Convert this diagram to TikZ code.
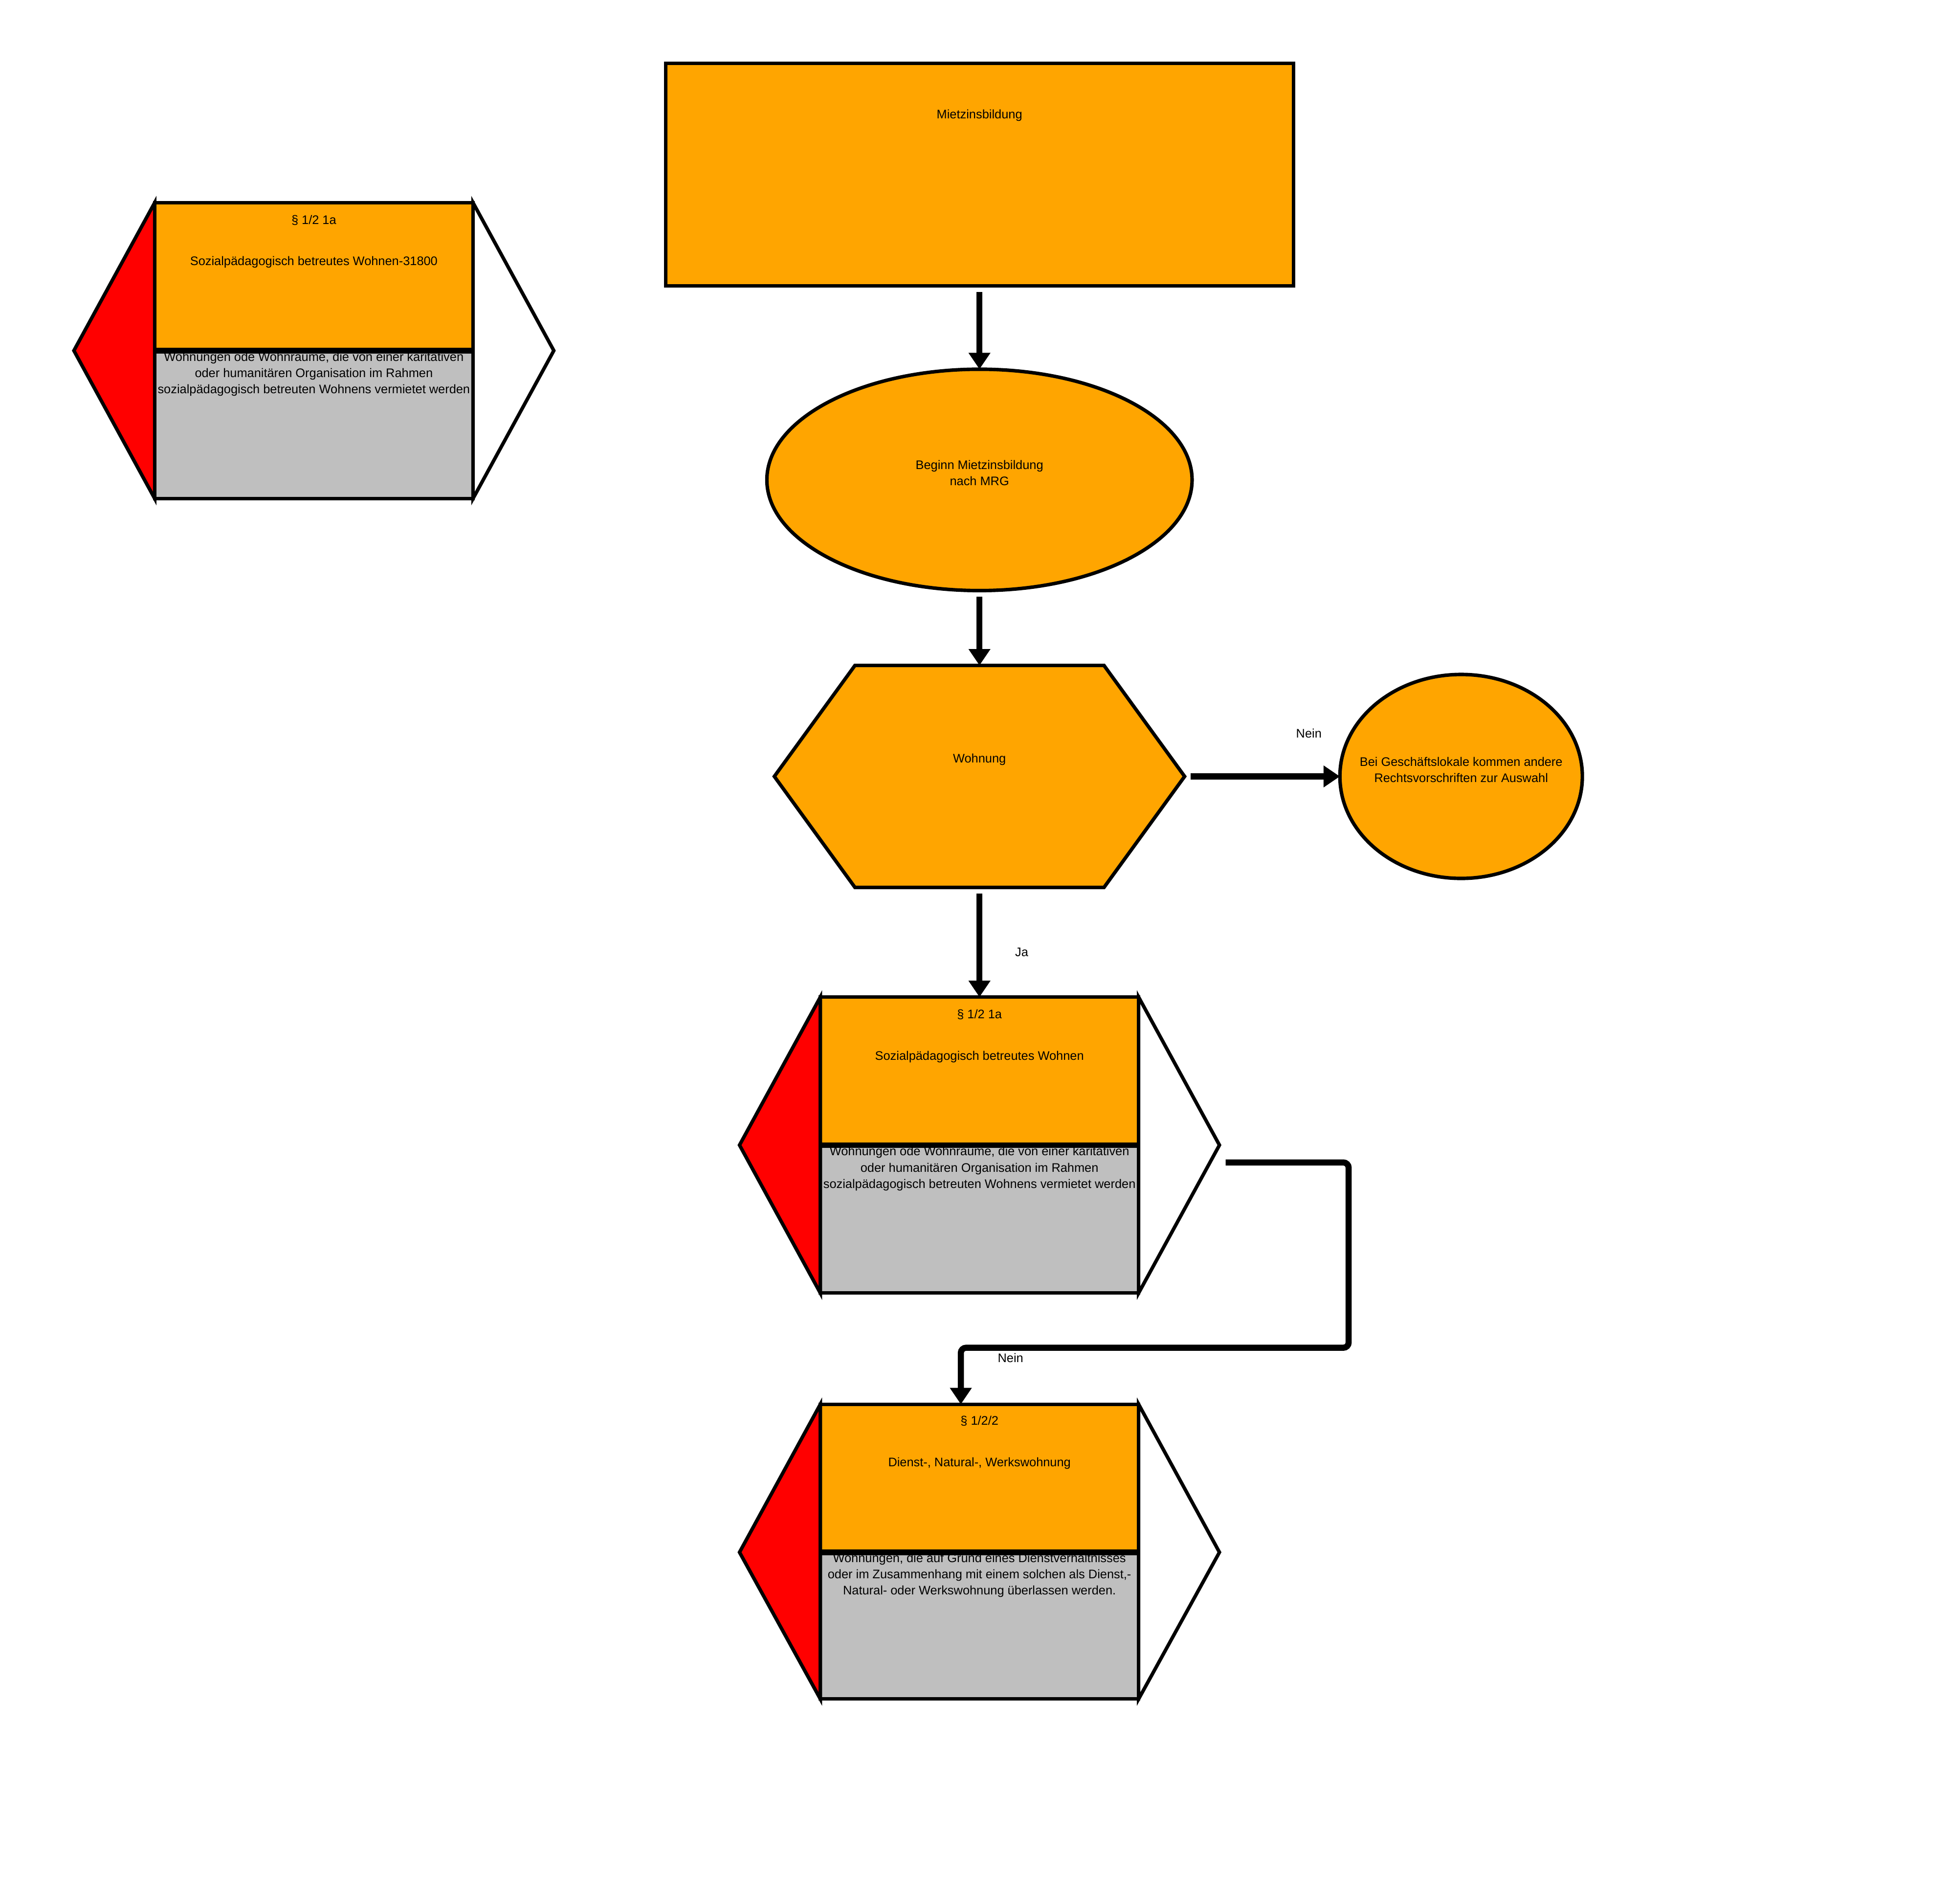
\documentclass[tikz,border=0pt]{standalone}
\usepackage{fontspec}
\setmainfont{Liberation Sans}
\usetikzlibrary{shapes.geometric,shapes.symbols,arrows.meta}
\definecolor{boxorange}{RGB}{255,165,0}
\definecolor{boxgray}{RGB}{191,191,191}
\definecolor{boxred}{RGB}{255,0,0}

\begin{document}
\begin{tikzpicture}[x=0.025cm, y=-0.025cm,
    every node/.style={font=\fontsize{7.1}{9.3}\selectfont},
    shapebox/.style={draw=black, line width=2pt, fill=boxorange, inner sep=0pt, outer sep=0pt},
    headbox/.style={shapebox, minimum width=6.4cm, minimum height=2.975cm},
    descbox/.style={headbox, fill=boxgray},
    tri/.style={draw=black, line width=2pt},
    divider/.style={line width=3.2pt},
    txt/.style={inner sep=0pt, align=center},
    lbl/.style={inner sep=0pt},
    conn/.style={line width=3.5pt, -{Triangle[length=0.33cm,width=0.42cm]}, shorten <=0.125cm}]
    \useasboundingbox (0,0) rectangle (1568,1531.4);

    %% Start box
    \node[shapebox, minimum width=12.625cm, minimum height=4.475cm] (start) at (788,140.5) {};
    \node[txt] (starttxt) at (788,93) {Mietzinsbildung};

    %% Beginn (ellipse)
    \node[shapebox, ellipse, minimum width=8.55cm, minimum height=4.45cm] (beginn) at (788,386) {};
    \node[txt] (beginntxt) at (788,380.5) {Beginn Mietzinsbildung\\nach MRG};

    %% Decision: Wohnung
    \node[shapebox, signal, signal to=west and east, signal pointer angle=108,
          minimum width=8.25cm, minimum height=4.4625cm] (wohnung) at (788,624.5) {};
    \node[txt] (wohnungtxt) at (788,611) {Wohnung};

    %% Geschaeftslokale (ellipse)
    \node[shapebox, ellipse, minimum width=4.875cm, minimum height=4.1cm] (lokale) at (1175.5,624.5) {};
    \node[txt] (lokaletxt) at (1175.5,619) {Bei Geschäftslokale kommen andere\\Rechtsvorschriften zur Auswahl};

    %% Card 1 (top left)
    \node[headbox] (c1head) at (252.5,222.5) {};
    \node[descbox] (c1desc) at (252.5,341.5) {};
    \node[txt, anchor=north] (c1desctxt) at (252.5,283) {Wohnungen ode Wohnräume, die von einer karitativen\\oder humanitären Organisation im Rahmen\\sozialpädagogisch betreuten Wohnens vermietet werden};
    \draw[divider] (c1head.south west) -- (c1head.south east);
    \draw[tri, fill=boxred] (c1head.north west) -- ([xshift=-1.625cm]c1head.south west) -- (c1desc.south west) -- cycle;
    \draw[tri, fill=white] (c1head.north east) -- ([xshift=1.625cm]c1head.south east) -- (c1desc.south east) -- cycle;
    \node[txt] (c1para) at (252.5,177) {§ 1/2 1a};
    \node[txt] (c1title) at (252.5,211) {Sozialpädagogisch betreutes Wohnen-31800};

    %% Card 2
    \node[headbox] (c2head) at (788,861.5) {};
    \node[descbox] (c2desc) at (788,980.5) {};
    \node[txt, anchor=north] (c2desctxt) at (788,922) {Wohnungen ode Wohnräume, die von einer karitativen\\oder humanitären Organisation im Rahmen\\sozialpädagogisch betreuten Wohnens vermietet werden};
    \draw[divider] (c2head.south west) -- (c2head.south east);
    \draw[tri, fill=boxred] (c2head.north west) -- ([xshift=-1.625cm]c2head.south west) -- (c2desc.south west) -- cycle;
    \draw[tri, fill=white] (c2head.north east) -- ([xshift=1.625cm]c2head.south east) -- (c2desc.south east) -- cycle;
    \node[txt] (c2para) at (788,816) {§ 1/2 1a};
    \node[txt] (c2title) at (788,850) {Sozialpädagogisch betreutes Wohnen};

    %% Card 3
    \node[headbox] (c3head) at (788,1189) {};
    \node[descbox] (c3desc) at (788,1307) {};
    \node[txt, anchor=north] (c3desctxt) at (788,1249) {Wohnungen, die auf Grund eines Dienstverhältnisses\\oder im Zusammenhang mit einem solchen als Dienst,-\\Natural- oder Werkswohnung überlassen werden.};
    \draw[divider] (c3head.south west) -- (c3head.south east);
    \draw[tri, fill=boxred] (c3head.north west) -- ([xshift=-1.625cm]c3head.south west) -- (c3desc.south west) -- cycle;
    \draw[tri, fill=white] (c3head.north east) -- ([xshift=1.625cm]c3head.south east) -- (c3desc.south east) -- cycle;
    \node[txt] (c3para) at (788,1143) {§ 1/2/2};
    \node[txt] (c3title) at (788,1177) {Dienst-, Natural-, Werkswohnung};

    %% Connectors
    \draw[conn] (start.south) -- (beginn.north);
    \draw[conn] (beginn.south) -- (wohnung.north);
    \draw[conn] (wohnung.east) -- (lokale.west);
    \node[lbl] (neinlbl) at (1053,590) {Nein};
    \draw[conn] (wohnung.south) -- (c2head.north);
    \node[lbl] (jalbl) at (822,766) {Ja};

    \coordinate (c2out) at (986,935);
    \draw[conn, shorten <=0pt, rounded corners=3pt] (c2out) -| (1085,1084) -| ([xshift=-0.375cm]c3head.north);
    \node[lbl] (neinlbl2) at (813,1092) {Nein};

\end{tikzpicture}
\end{document}
